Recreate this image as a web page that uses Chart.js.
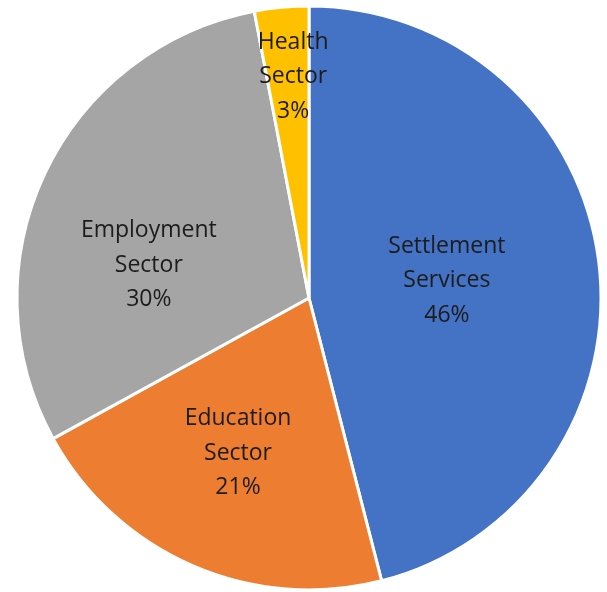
<!DOCTYPE html>
<html>
<head>
<meta charset="utf-8">
<script src="https://cdn.jsdelivr.net/npm/chart.js@4"></script>
<style>
  html, body { margin: 0; padding: 0; background: #ffffff; }
  #wrap { width: 607px; height: 592px; position: relative; }
</style>
</head>
<body>
<div id="wrap"><canvas id="sectorChart"></canvas></div>
<script>
// sectors, clockwise from 12 o'clock
const sectors = ['Settlement Services', 'Education Sector', 'Employment Sector', 'Health Sector'];
const shares = [46, 21, 30, 3];
const sliceColors = ['#4472C4', '#ED7D31', '#A5A5A5', '#FFC000'];

// where each label sits: fraction of the radius, and a small turn in degrees
const labelDist = [0.476, 0.584, 0.56, 0.76];
const labelTurn = [0, 1.2, -13.6, 1.3];

// draws "Name / Sector / NN%" inside every slice
const sliceLabels = {
    id: 'sliceLabels',
    afterDatasetsDraw(chart) {
        const ctx = chart.ctx;
        const meta = chart.getDatasetMeta(0);
        ctx.save();
        ctx.font = '23px "Open Sans"';
        ctx.fillStyle = '#1c1c1c';
        ctx.textAlign = 'center';
        ctx.textBaseline = 'middle';
        meta.data.forEach((arc, i) => {
            const p = arc.getProps(['x', 'y', 'startAngle', 'endAngle', 'outerRadius'], true);
            const mid = (p.startAngle + p.endAngle) / 2 + labelTurn[i] * Math.PI / 180;
            const r = p.outerRadius * labelDist[i];
            const cx = p.x + Math.cos(mid) * r;
            const cy = p.y + Math.sin(mid) * r;
            const lines = sectors[i].split(' ').concat([shares[i] + '%']);
            const lineH = 34.5;
            lines.forEach((txt, k) => {
                ctx.fillText(txt, cx, cy + (k - (lines.length - 1) / 2) * lineH);
            });
        });
        ctx.restore();
    }
};

new Chart(document.getElementById('sectorChart'), {
    type: 'pie',
    data: {
        labels: sectors,
        datasets: [{
            data: shares,
            backgroundColor: sliceColors,
            borderColor: '#ffffff',
            borderWidth: 3
        }]
    },
    options: {
        responsive: true,
        maintainAspectRatio: false,
        animation: false,
        radius: 292,
        layout: { padding: { left: 17, right: 6, top: 6, bottom: 2 } },
        plugins: {
            legend: { display: false },
            tooltip: { enabled: false }
        }
    },
    plugins: [sliceLabels]
});
</script>
</body>
</html>
